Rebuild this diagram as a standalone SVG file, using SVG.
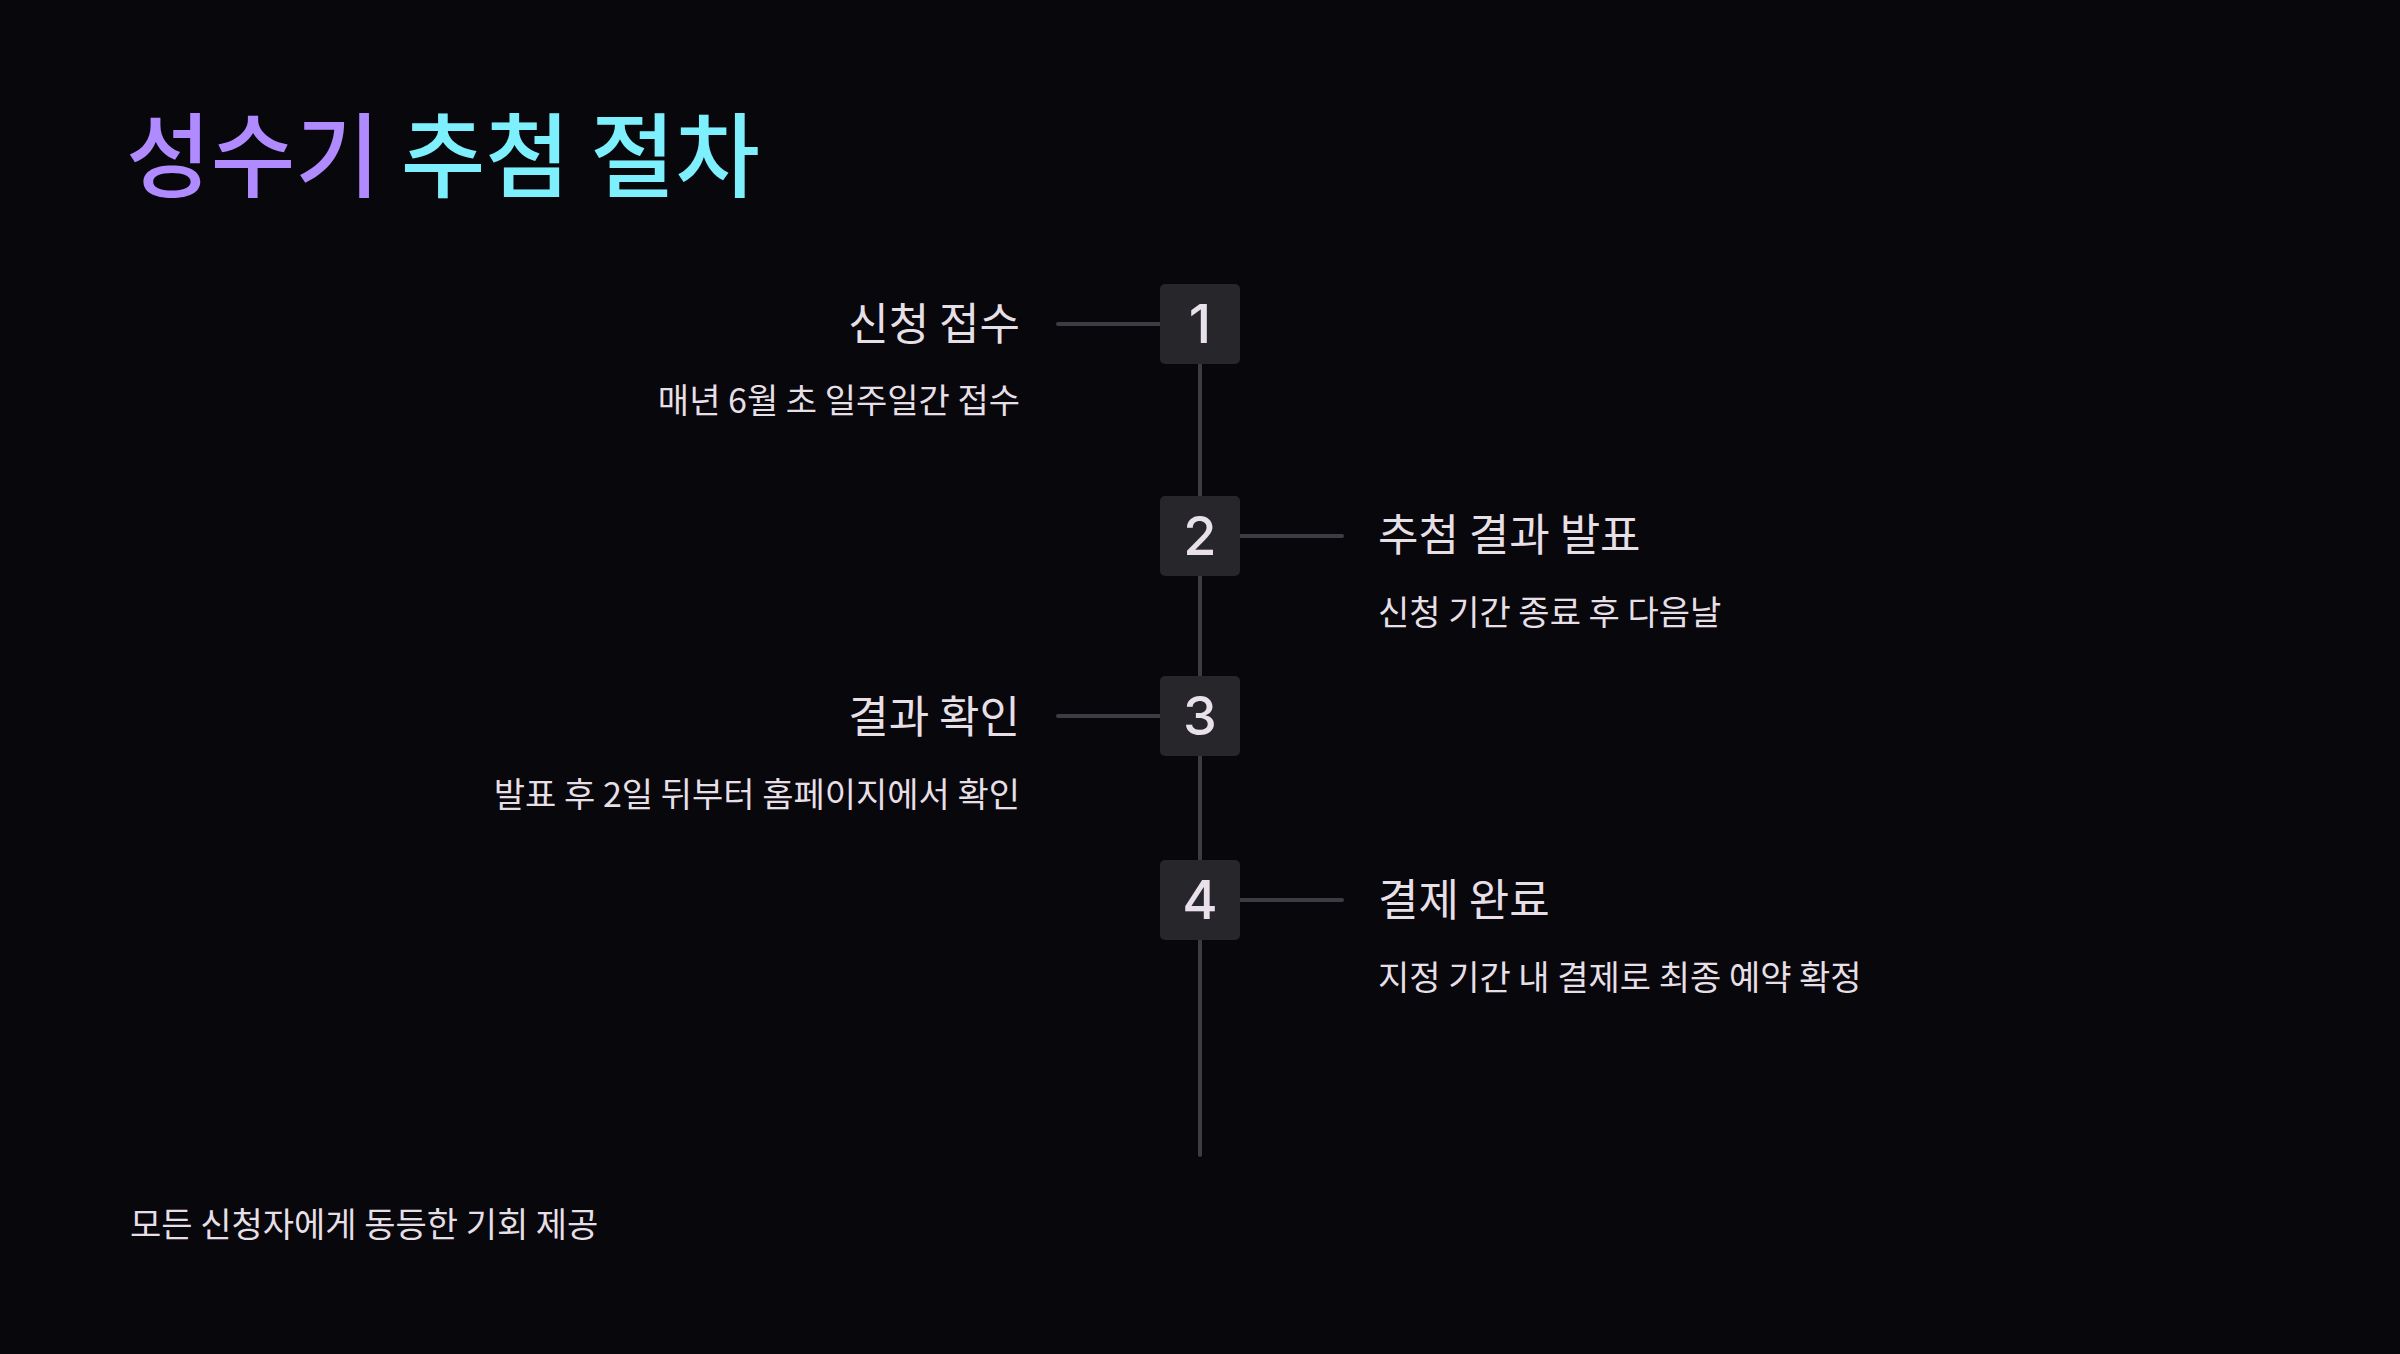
<svg xmlns="http://www.w3.org/2000/svg" width="2400" height="1354" viewBox="0 0 2400 1354">
<style>
text{font-family:"Noto Sans CJK KR","Noto Sans",sans-serif;fill:#e6dfe6}
.h{font-size:44px}
.s{font-size:34px}
.n{font-family:Inter,"Noto Sans",sans-serif;font-size:54px;font-weight:500;text-anchor:middle;fill:#e8e0ea}
.box{fill:#26262b}
.ln{stroke:#3c3c42;stroke-width:4;stroke-linecap:round;fill:none}
</style>
<rect width="2400" height="1354" fill="#08070c"/>
<text x="126" y="190" font-size="92" font-weight="500"><tspan fill="#b08aff">성수기</tspan> <tspan fill="#7ef0fd">추첨 절차</tspan></text>
<g id="connectors">
<line class="ln" x1="1200" y1="364" x2="1200" y2="1155"/>
<line class="ln" x1="1058" y1="324" x2="1160" y2="324"/>
<line class="ln" x1="1240" y1="536" x2="1342" y2="536"/>
<line class="ln" x1="1058" y1="716" x2="1160" y2="716"/>
<line class="ln" x1="1240" y1="900" x2="1342" y2="900"/>
</g>
<g id="step1"><rect class="box" x="1160" y="284" width="80" height="80" rx="5"/><text class="n" x="1200" y="343">1</text>
<text class="h" x="1020" y="340" text-anchor="end">신청 접수</text><text class="s" x="1020" y="413" text-anchor="end">매년 6월 초 일주일간 접수</text></g>
<g id="step2"><rect class="box" x="1160" y="496" width="80" height="80" rx="5"/><text class="n" x="1200" y="555">2</text>
<text class="h" x="1378" y="551">추첨 결과 발표</text><text class="s" x="1378" y="625">신청 기간 종료 후 다음날</text></g>
<g id="step3"><rect class="box" x="1160" y="676" width="80" height="80" rx="5"/><text class="n" x="1200" y="735">3</text>
<text class="h" x="1020" y="733" text-anchor="end">결과 확인</text><text class="s" x="1020" y="807" text-anchor="end">발표 후 2일 뒤부터 홈페이지에서 확인</text></g>
<g id="step4"><rect class="box" x="1160" y="860" width="80" height="80" rx="5"/><text class="n" x="1200" y="919">4</text>
<text class="h" x="1378" y="916">결제 완료</text><text class="s" x="1378" y="990">지정 기간 내 결제로 최종 예약 확정</text></g>
<text class="s" x="130" y="1237">모든 신청자에게 동등한 기회 제공</text>
</svg>
